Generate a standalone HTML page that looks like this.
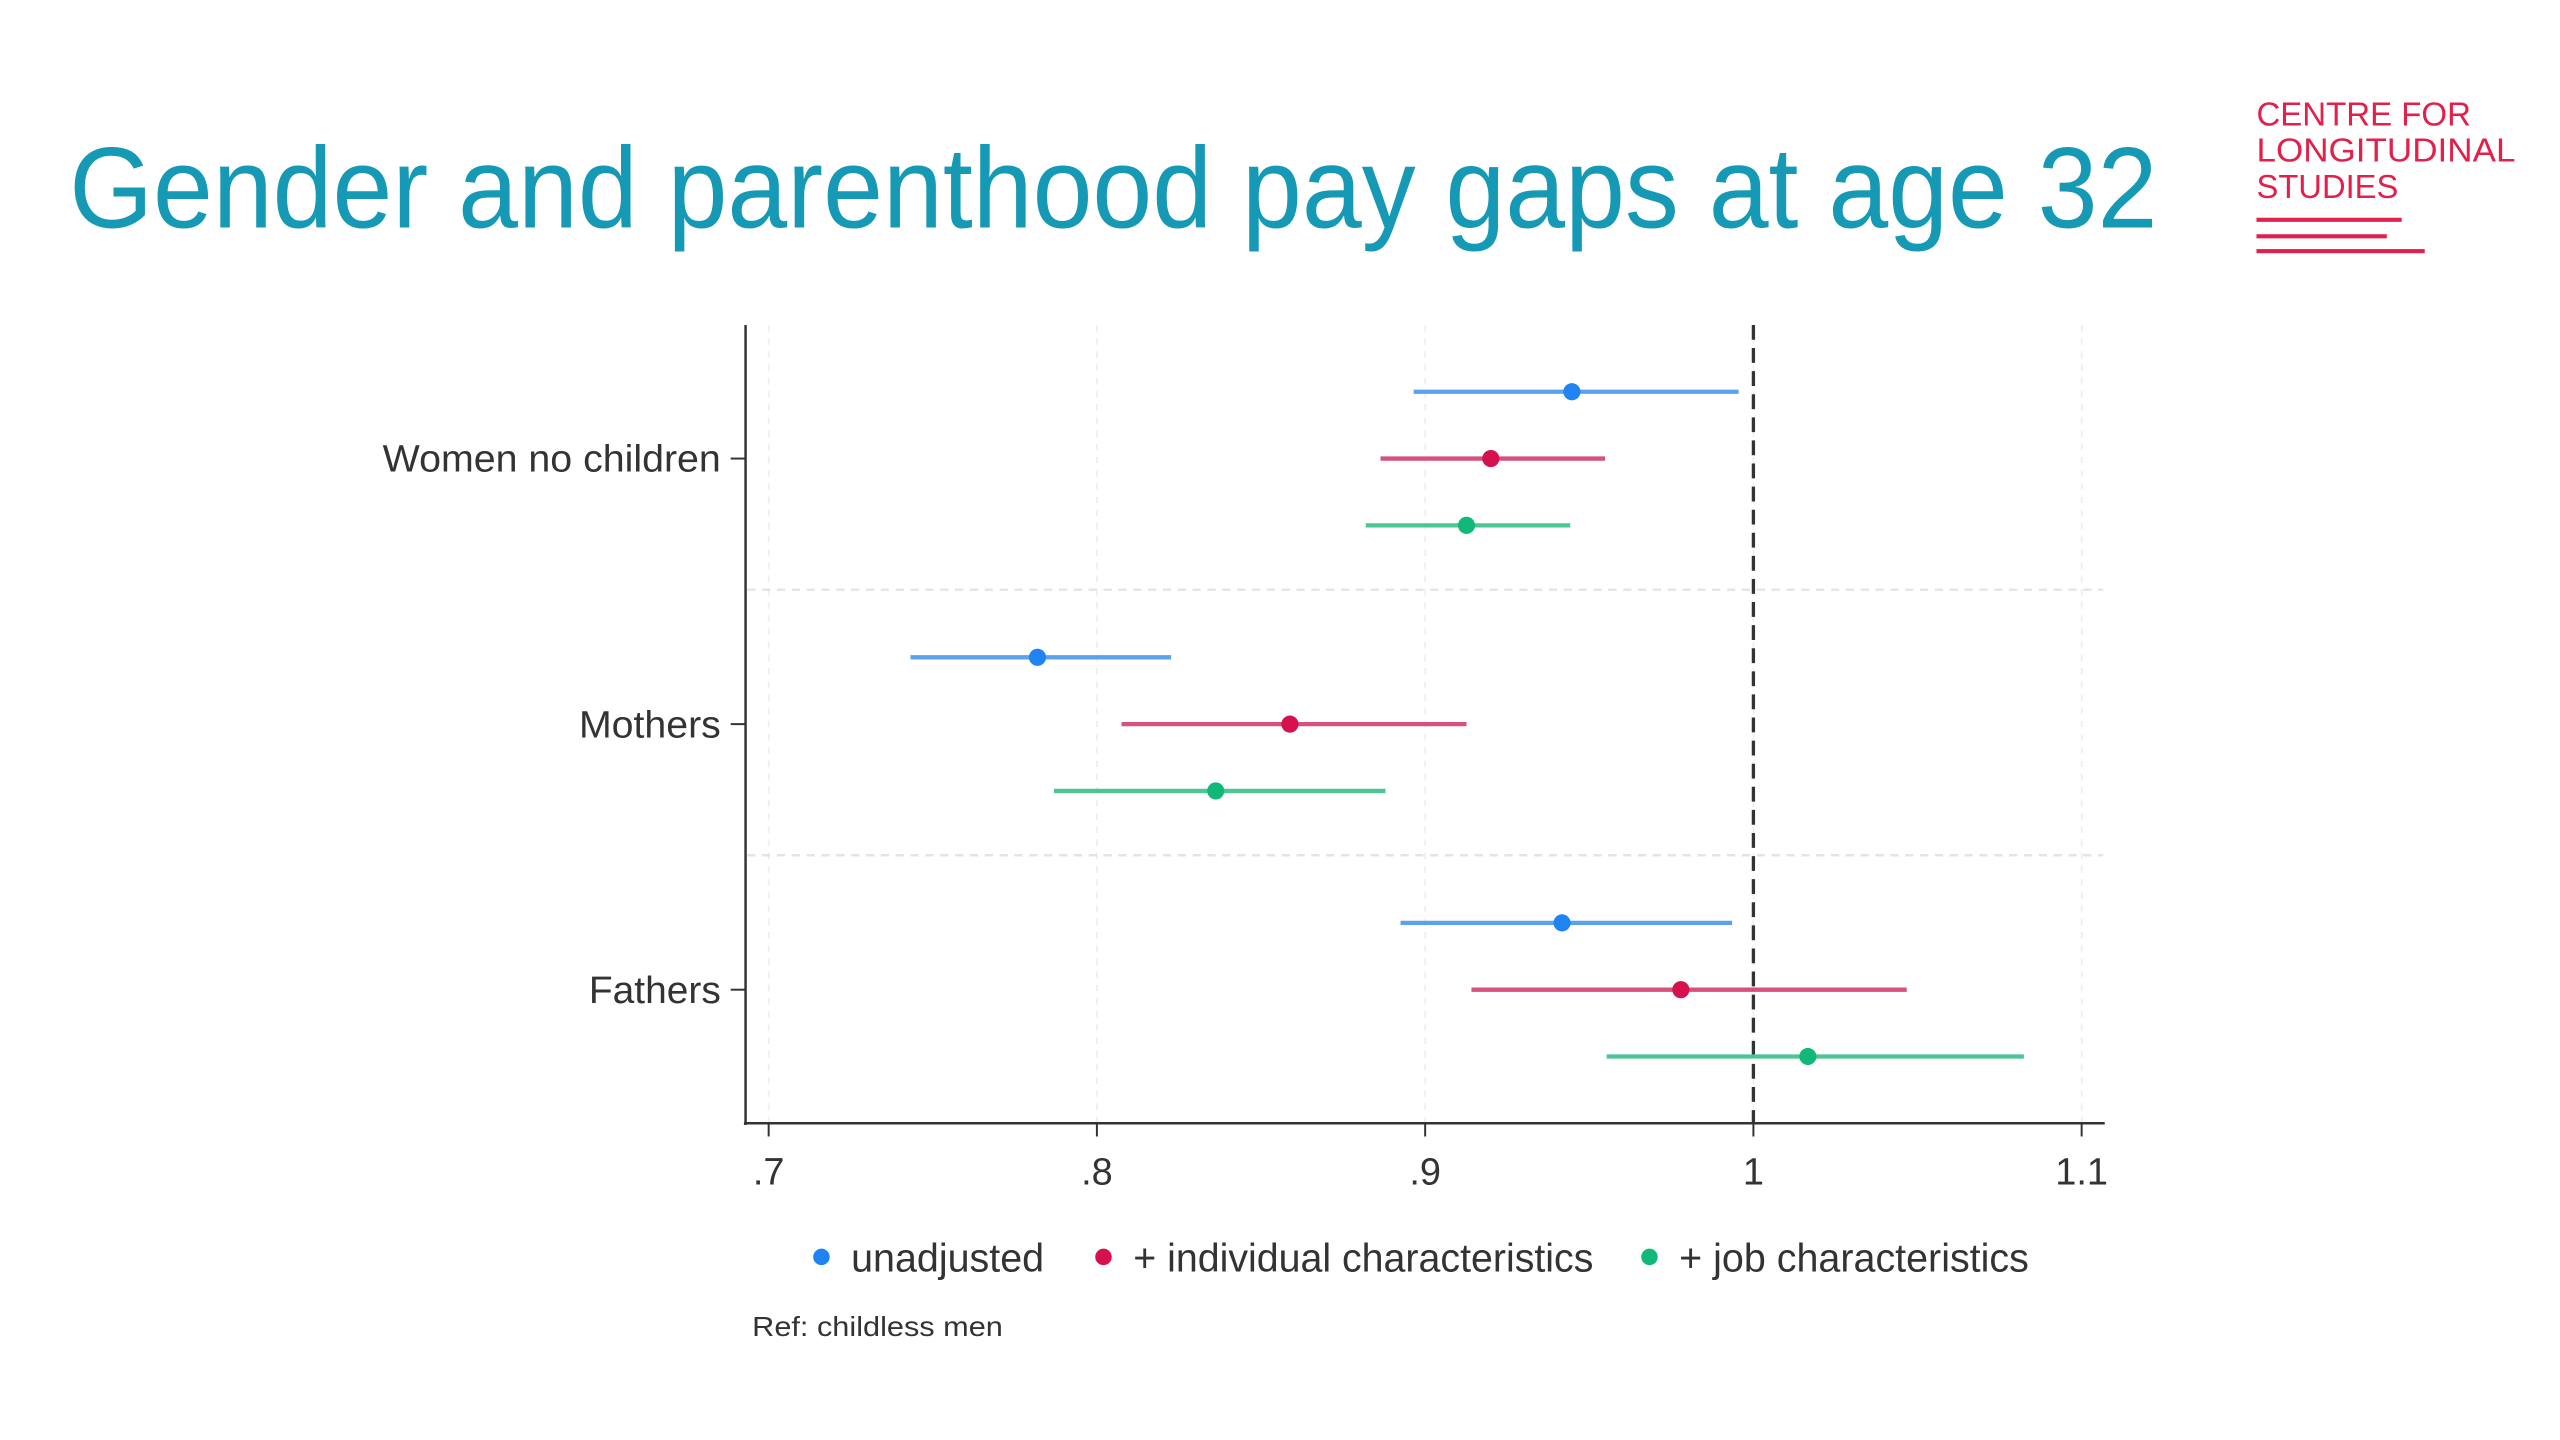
<!DOCTYPE html>
<html><head><meta charset="utf-8"><style>
html,body{margin:0;padding:0;background:#fff;width:2560px;height:1440px;overflow:hidden}
svg{display:block}
text{font-family:"Liberation Sans",Arial,sans-serif}
</style></head><body>
<svg id="chart" width="2560" height="1440" viewBox="0 0 1552 873" preserveAspectRatio="none" xmlns="http://www.w3.org/2000/svg">
<text x="42" y="138" font-size="70" fill="#1599b4" textLength="1266" lengthAdjust="spacingAndGlyphs">Gender and parenthood pay gaps at age 32</text>
<g fill="#e2204a">
<text x="1368" y="76" font-size="20" textLength="130" lengthAdjust="spacingAndGlyphs">CENTRE FOR</text>
<text x="1368" y="98" font-size="20" textLength="157" lengthAdjust="spacingAndGlyphs">LONGITUDINAL</text>
<text x="1368" y="120" font-size="20" textLength="86" lengthAdjust="spacingAndGlyphs">STUDIES</text>
<rect x="1368" y="132" width="88" height="2.5"/>
<rect x="1368" y="142" width="79" height="2.5"/>
<rect x="1368" y="151" width="102" height="2.5"/>
</g>
<g id="plot"></g>
<g font-size="24" fill="#333">
<circle cx="498" cy="762" r="5" fill="#1f83f2"/>
<text x="516" y="771" textLength="117" lengthAdjust="spacingAndGlyphs">unadjusted</text>
<circle cx="669" cy="762" r="5" fill="#d5114e"/>
<text x="687" y="771" textLength="279" lengthAdjust="spacingAndGlyphs">+ individual characteristics</text>
<circle cx="1000" cy="762" r="5" fill="#12b77a"/>
<text x="1018" y="771" textLength="212" lengthAdjust="spacingAndGlyphs">+ job characteristics</text>
</g>
<text x="456" y="810" font-size="17" fill="#333" textLength="152" lengthAdjust="spacingAndGlyphs">Ref: childless men</text>
</svg>
<script>
const categories = ["Women no children", "Mothers", "Fathers"];
const categoryLabelWidths = [205, 86, 80];
const seriesNames = ["unadjusted", "+ individual characteristics", "+ job characteristics"];
const pointUnadj = [0.9447, 0.7819, 0.9417];
const loUnadj = [0.8965, 0.7432, 0.8925];
const hiUnadj = [0.9955, 0.8226, 0.9935];
const pointIndiv = [0.920, 0.8588, 0.9779];
const loIndiv = [0.8864, 0.8075, 0.9141];
const hiIndiv = [0.9548, 0.9126, 1.0467];
const pointJob = [0.9126, 0.8362, 1.0166];
const loJob = [0.8819, 0.7869, 0.9553];
const hiJob = [0.9442, 0.8879, 1.0824];
const xTicks = [0.7, 0.8, 0.9, 1.0, 1.1];
const xTickLabels = [".7", ".8", ".9", "1", "1.1"];

const NS = "http://www.w3.org/2000/svg";
const g = document.getElementById("plot");
const X0 = 466, PXPER = 1990;
const xs = v => X0 + (v - 0.7) * PXPER;
const ys = i => 278 + i * 161;
const off = [-40.5, 0, 40.5];
function mk(tag, attrs, parent) {
  const e = document.createElementNS(NS, tag);
  for (const k in attrs) e.setAttribute(k, attrs[k]);
  (parent || g).appendChild(e);
  return e;
}
xTicks.forEach((t, i) => {
  const l = mk("line", {x1: xs(t), x2: xs(t), y1: 197, y2: 681, stroke: "#eee", "stroke-width": 1, "stroke-dasharray": "4 4"});
  
  
});
[357.5, 518.5].forEach(y => {
  const l = mk("line", {x1: 453, x2: 1275, y1: y, y2: y, stroke: "#e4e4e4", "stroke-width": 1.5, "stroke-dasharray": "5 4"});
  
  
});
let ax = mk("line", {x1: 452, x2: 452, y1: 197, y2: 682, stroke: "#333", "stroke-width": 1.5});


ax = mk("line", {x1: 451, x2: 1276, y1: 681, y2: 681, stroke: "#333", "stroke-width": 1.5});


xTicks.forEach((t, i) => {
  const tk = mk("line", {x1: xs(t), x2: xs(t), y1: 681, y2: 689, stroke: "#333", "stroke-width": 1.2});
  
  
  const tx = mk("text", {x: xs(t), y: 718, "font-size": 23, fill: "#333", "text-anchor": "middle"});
  tx.textContent = xTickLabels[i];
  
  
});
categories.forEach((c, i) => {
  const tk = mk("line", {x1: 443, x2: 452, y1: ys(i), y2: ys(i), stroke: "#333", "stroke-width": 1.2});
  
  
  const tx = mk("text", {x: 437, y: ys(i) + 8, "font-size": 23, fill: "#333", "text-anchor": "end", textLength: categoryLabelWidths[i], lengthAdjust: "spacingAndGlyphs"});
  tx.textContent = c;
  
  
});
const ref = mk("line", {x1: xs(1), x2: xs(1), y1: 197, y2: 681, stroke: "#333", "stroke-width": 2, "stroke-dasharray": "9 5"});


const series = [
  {p: pointUnadj, lo: loUnadj, hi: hiUnadj, line: "#5aa2ec", dot: "#1f83f2", key: "unadjusted"},
  {p: pointIndiv, lo: loIndiv, hi: hiIndiv, line: "#d6517c", dot: "#d5114e", key: "individual"},
  {p: pointJob, lo: loJob, hi: hiJob, line: "#4cc594", dot: "#12b77a", key: "job"}
];
series.forEach((s, si) => {
  categories.forEach((c, i) => {
    const y = ys(i) + off[si];
    const l = mk("line", {x1: xs(s.lo[i]), x2: xs(s.hi[i]), y1: y, y2: y, stroke: s.line, "stroke-width": 2.6});
    
    
    const d = mk("circle", {cx: xs(s.p[i]), cy: y, r: 5.2, fill: s.dot});
    
    
  });
});
</script>
</body></html>
